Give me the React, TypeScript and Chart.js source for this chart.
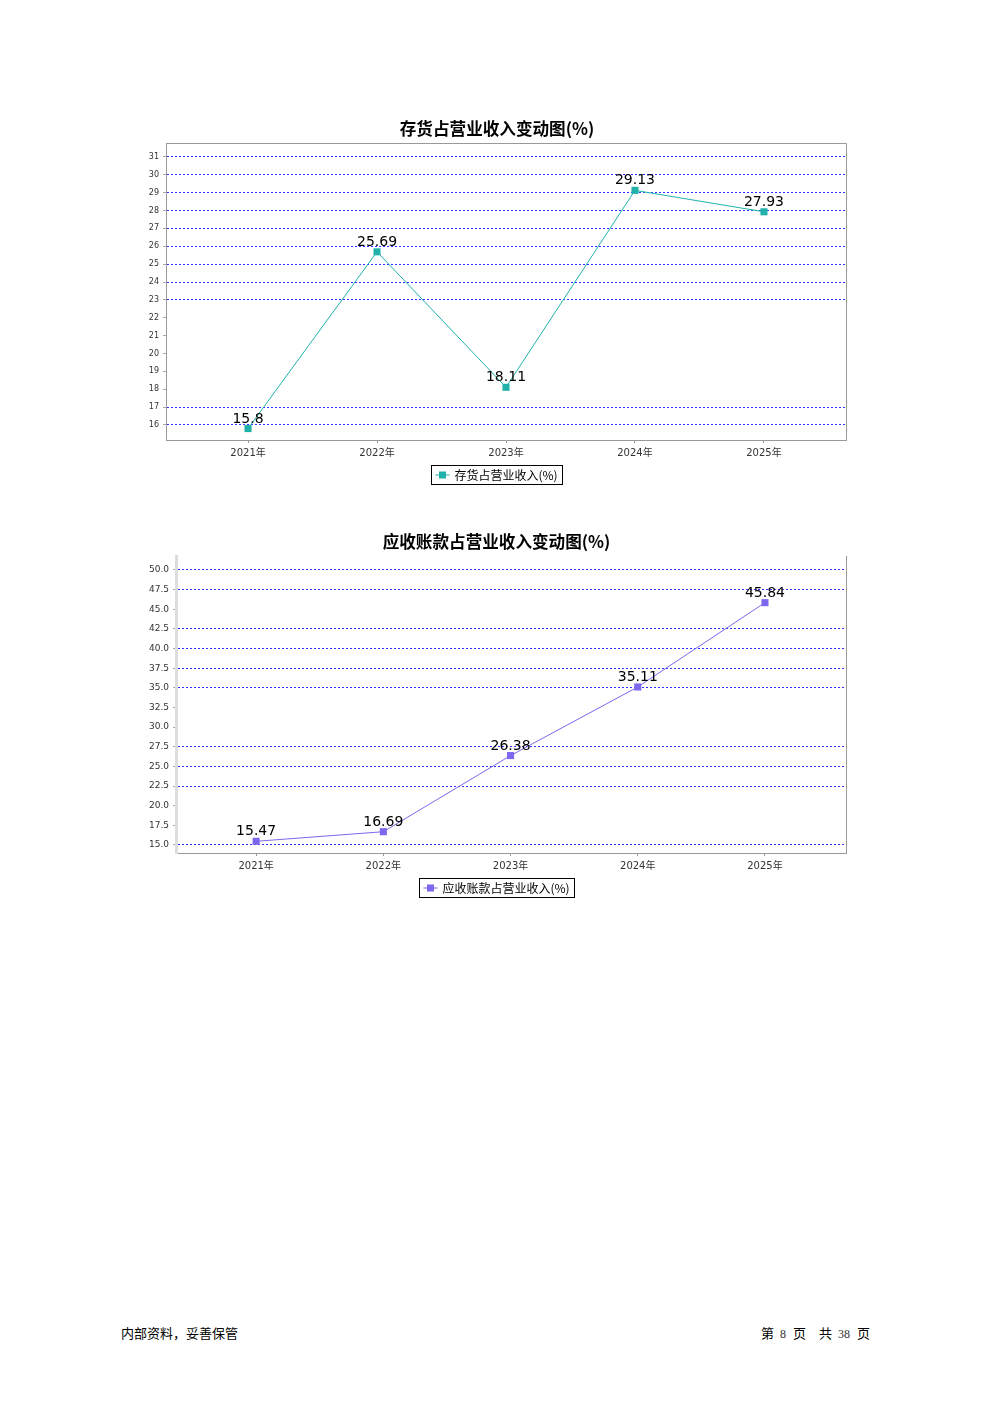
import React, { useEffect, useRef } from "react";
import { Chart, registerables } from "chart.js";

Chart.register(...registerables);

// ---- data ----
const years = ["2021年", "2022年", "2023年", "2024年", "2025年"];
const inventoryRatio = [15.8, 25.69, 18.11, 29.13, 27.93];
const receivableRatio = [15.47, 16.69, 26.38, 35.11, 45.84];
const inventoryTicks = [16, 17, 18, 19, 20, 21, 22, 23, 24, 25, 26, 27, 28, 29, 30, 31];
const receivableTicks = [15.0, 17.5, 20.0, 22.5, 25.0, 27.5, 30.0, 32.5, 35.0, 37.5, 40.0, 42.5, 45.0, 47.5, 50.0];
// grid lines that are visible in the original rendering
const inventoryGridShown = [16, 17, 23, 24, 25, 26, 27, 28, 29, 30, 31];
const receivableGridShown = [15.0, 22.5, 25.0, 27.5, 35.0, 37.5, 40.0, 42.5, 47.5, 50.0];

const inventoryTitle = "存货占营业收入变动图(%)";
const inventoryLegend = "存货占营业收入(%)";
const receivableTitle = "应收账款占营业收入变动图(%)";
const receivableLegend = "应收账款占营业收入(%)";

const CJK = '"Noto Sans CJK SC", "DejaVu Sans", sans-serif';
const SANS = '"DejaVu Sans", "Noto Sans CJK SC", sans-serif';
const SERIF = '"Liberation Serif", "DejaVu Serif", serif';

type Cfg = {
  title: string;
  legend: string;
  values: number[];
  ticks: number[];
  gridShown: number[];
  color: string;
  yMin: number;
  yMax: number;
  xMin: number;
  xMax: number;
  yWidth: number;
  pad: { top: number; right: number; bottom: number };
  decimals: number;
  yFont: number;
  yBorder: { color: string; width: number };
  frame: "full" | "right";
  titleY: number;
  legendY: number;
  centerX: number;
};

const overlayPlugin = {
  id: "overlay",
  afterDatasetsDraw(chart: any) {
    const ctx = chart.ctx;
    const meta = chart.getDatasetMeta(0);
    const data = chart.data.datasets[0].data as any[];
    ctx.save();
    ctx.font = `14px ${SANS}`;
    ctx.fillStyle = "#000";
    ctx.textAlign = "center";
    ctx.textBaseline = "alphabetic";
    meta.data.forEach((pt: any, i: number) => {
      ctx.fillText(String(data[i].y), pt.x, pt.y - 6);
    });
    ctx.restore();
  },
  afterDraw(chart: any, _args: any, opts: any) {
    const ctx = chart.ctx;
    const a = chart.chartArea;
    ctx.save();
    // frame
    ctx.strokeStyle = "#999";
    ctx.lineWidth = 1;
    ctx.beginPath();
    if (opts.frame === "full") {
      ctx.moveTo(Math.round(a.left) + 0.5, Math.round(a.top) + 0.5);
      ctx.lineTo(Math.round(a.right) + 0.5, Math.round(a.top) + 0.5);
      ctx.lineTo(Math.round(a.right) + 0.5, Math.round(a.bottom) + 0.5);
    } else {
      ctx.moveTo(Math.round(a.right) + 0.5, Math.round(a.top));
      ctx.lineTo(Math.round(a.right) + 0.5, Math.round(a.bottom) + 0.5);
    }
    ctx.stroke();
    // title
    ctx.font = `bold 16.6px ${CJK}`;
    ctx.fillStyle = "#000";
    ctx.textAlign = "center";
    ctx.textBaseline = "middle";
    ctx.fillText(opts.title, opts.centerX, opts.titleY);
    // legend
    ctx.font = `12px ${CJK}`;
    const tw = ctx.measureText(opts.legend).width;
    const bw = 4 + 14 + 5 + tw + 5;
    const bh = 19;
    const bx = Math.round(opts.centerX - bw / 2) + 0.5;
    const by = Math.round(opts.legendY - bh / 2) + 0.5;
    ctx.strokeStyle = "#000";
    ctx.lineWidth = 1;
    ctx.strokeRect(bx, by, Math.round(bw), bh);
    const cy = by + bh / 2;
    ctx.strokeStyle = opts.color;
    ctx.beginPath();
    ctx.moveTo(bx + 4, cy);
    ctx.lineTo(bx + 18, cy);
    ctx.stroke();
    ctx.fillStyle = opts.color;
    ctx.fillRect(bx + 7.5, cy - 3.5, 7, 7);
    ctx.fillStyle = "#000";
    ctx.textAlign = "left";
    ctx.fillText(opts.legend, bx + 23, cy + 0.5);
    ctx.restore();
  },
};

function LineChart({ cfg, left, top }: { cfg: Cfg; left: number; top: number }) {
  const ref = useRef<HTMLCanvasElement>(null);
  useEffect(() => {
    if (!ref.current) return;
    const chart = new Chart(ref.current, {
      type: "line",
      data: {
        datasets: [
          {
            label: cfg.legend,
            data: cfg.values.map((v, i) => ({ x: i, y: v })),
            borderColor: cfg.color,
            backgroundColor: cfg.color,
            borderWidth: 1,
            pointStyle: "rect",
            pointRadius: 5,
            pointBorderWidth: 0,
            pointBackgroundColor: cfg.color,
            tension: 0,
          },
        ],
      },
      options: {
        animation: false,
        responsive: false,
        devicePixelRatio: 1,
        layout: { padding: { left: 0, top: cfg.pad.top, right: cfg.pad.right, bottom: cfg.pad.bottom } },
        plugins: {
          legend: { display: false },
          title: { display: false },
          tooltip: { enabled: false },
          overlay: {
            title: cfg.title,
            legend: cfg.legend,
            color: cfg.color,
            frame: cfg.frame,
            titleY: cfg.titleY,
            legendY: cfg.legendY,
            centerX: cfg.centerX,
          },
        } as any,
        scales: {
          x: {
            type: "linear",
            min: cfg.xMin,
            max: cfg.xMax,
            afterBuildTicks: (s: any) => {
              s.ticks = years.map((_, i) => ({ value: i }));
            },
            afterFit: (s: any) => {
              s.height = 22;
            },
            ticks: {
              callback: (v: any) => years[v] ?? "",
              font: { size: 10, family: SANS },
              color: "#333",
              padding: 4,
              maxRotation: 0,
              autoSkip: false,
            },
            grid: { drawOnChartArea: false, drawTicks: true, tickLength: 3, tickColor: "#999" },
            border: { color: "#999", width: 1 },
          },
          y: {
            type: "linear",
            min: cfg.yMin,
            max: cfg.yMax,
            afterBuildTicks: (s: any) => {
              s.ticks = cfg.ticks.map((v) => ({ value: v }));
            },
            afterFit: (s: any) => {
              s.width = cfg.yWidth;
            },
            ticks: {
              callback: (v: any) => Number(v).toFixed(cfg.decimals),
              font: { size: cfg.yFont, family: SANS },
              color: "#333",
              padding: 4,
              autoSkip: false,
            },
            grid: {
              color: (c: any) =>
                c.tick && cfg.gridShown.some((g) => Math.abs(g - c.tick.value) < 1e-6) ? "#3030ff" : "transparent",
              lineWidth: 1,
              tickLength: 3,
              tickColor: "#aaa",
              drawTicks: true,
            },
            border: { color: cfg.yBorder.color, width: cfg.yBorder.width, dash: [2, 2] },
          },
        },
      },
      plugins: [overlayPlugin as any],
    });
    return () => chart.destroy();
  }, []);
  return (
    <canvas
      ref={ref}
      width={760}
      height={385}
      style={{ position: "absolute", left, top, width: 760, height: 385 }}
    />
  );
}

const chart1: Cfg = {
  title: inventoryTitle,
  legend: inventoryLegend,
  values: inventoryRatio,
  ticks: inventoryTicks,
  gridShown: inventoryGridShown,
  color: "#20b2aa",
  yMin: 15.16,
  yMax: 31.78,
  xMin: -0.636,
  xMax: 4.636,
  yWidth: 46,
  pad: { top: 33, right: 34, bottom: 33 },
  decimals: 0,
  yFont: 8,
  yBorder: { color: "#999", width: 1 },
  frame: "full",
  titleY: 19,
  legendY: 364,
  centerX: 377,
};

const chart2: Cfg = {
  title: receivableTitle,
  legend: receivableLegend,
  values: receivableRatio,
  ticks: receivableTicks,
  gridShown: receivableGridShown,
  color: "#7b68ee",
  yMin: 13.98,
  yMax: 51.78,
  xMin: -0.63,
  xMax: 4.637,
  yWidth: 56,
  pad: { top: 31, right: 34, bottom: 35 },
  decimals: 1,
  yFont: 9,
  yBorder: { color: "#dddddd", width: 3 },
  frame: "right",
  titleY: 17,
  legendY: 362,
  centerX: 376.5,
};

const footStyle: React.CSSProperties = {
  position: "absolute",
  top: 1325,
  fontFamily: CJK,
  fontSize: 13,
  lineHeight: "16px",
  whiteSpace: "pre",
  color: "#000",
};

export default function App() {
  return (
    <div style={{ position: "absolute", left: 0, top: 0, width: 992, height: 1403, background: "#fff" }}>
      <LineChart cfg={chart1} left={120} top={110} />
      <LineChart cfg={chart2} left={120} top={525} />
      <div style={{ ...footStyle, left: 121 }}>内部资料，妥善保管</div>
      <div style={{ ...footStyle, left: 761, display: "flex", alignItems: "baseline" }}>
        <span>第</span>
        <span style={{ fontFamily: SERIF, fontSize: 12, marginLeft: 6, color: "#333" }}>8</span>
        <span style={{ marginLeft: 7 }}>页</span>
        <span style={{ marginLeft: 13 }}>共</span>
        <span style={{ fontFamily: SERIF, fontSize: 12, marginLeft: 6, color: "#333" }}>38</span>
        <span style={{ marginLeft: 7 }}>页</span>
      </div>
    </div>
  );
}
